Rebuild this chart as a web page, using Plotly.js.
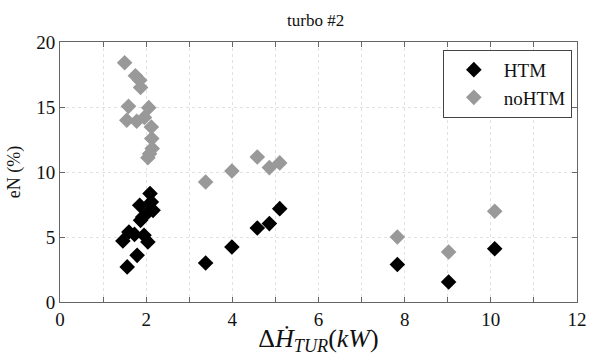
<!DOCTYPE html>
<html><head><meta charset="utf-8">
<script src="https://cdn.plot.ly/plotly-3.0.1.min.js"></script>
<style>html,body{margin:0;padding:0;background:#fff}#chart{width:590px;height:356px}</style>
</head><body><div id="chart"></div>
<script>
var htmX = [1.46, 1.56, 1.60, 1.73, 1.79, 1.87, 1.85, 1.92, 1.95, 2.04, 2.04, 2.09, 2.12, 2.16, 3.38, 3.99, 4.58, 4.86, 5.10, 7.83, 9.02, 10.09];
var htmY = [4.7, 2.7, 5.38, 5.2, 3.59, 6.28, 7.44, 6.54, 5.13, 4.62, 6.9, 8.34, 7.7, 7.05, 3.0, 4.23, 5.69, 6.03, 7.18, 2.88, 1.54, 4.1];
var noX = [1.50, 1.75, 1.85, 1.87, 1.59, 2.06, 1.55, 1.78, 1.96, 2.12, 2.13, 2.14, 2.08, 2.04, 3.38, 3.99, 4.58, 4.86, 5.10, 7.83, 9.02, 10.09];
var noY = [18.4, 17.4, 17.05, 16.5, 15.05, 14.95, 13.98, 13.9, 14.2, 13.46, 12.57, 11.8, 11.4, 11.1, 9.23, 10.08, 11.15, 10.34, 10.7, 5.0, 3.85, 6.98];
var seriesNames = ['HTM', 'noHTM'];
var titleText = 'turbo #2';
var xTitle = 'Δ<i>Ḣ</i><sub><i>TUR</i></sub>(<i>kW</i>)';
var yTitle = 'eN (%)';

var font = 'Liberation Serif';
var traces = [
  {x: htmX, y: htmY, name: seriesNames[0], mode: 'markers', type: 'scatter',
   marker: {symbol: 'diamond', size: 12, color: '#000'}},
  {x: noX, y: noY, name: seriesNames[1], mode: 'markers', type: 'scatter',
   marker: {symbol: 'diamond', size: 12, color: '#999'}}
];
var axisCommon = {
  showline: true, linecolor: '#666', linewidth: 1, mirror: 'ticks',
  ticks: 'inside', ticklen: 5, tickcolor: '#666', zeroline: false,
  showgrid: true, gridcolor: '#e2e2e2', griddash: 'dot',
  tickfont: {family: font, size: 19, color: '#111'}
};
var layout = {
  width: 590, height: 356,
  margin: {l: 60, r: 13, t: 42, b: 54},
  paper_bgcolor: '#fff', plot_bgcolor: '#fff',
  showlegend: true,
  title: {text: titleText, font: {family: font, size: 17, color: '#111'}, x: 0.535, xanchor: 'center', y: 0.945, yanchor: 'middle'},
  xaxis: Object.assign({}, axisCommon, {
    range: [0, 12], dtick: 2, tick0: 0,
    minor: {dtick: 1, ticks: 'inside', ticklen: 5, tickcolor: '#666', showgrid: true, gridcolor: '#e2e2e2', griddash: 'dot'},
    title: {text: xTitle, font: {family: font, size: 26, color: '#111'}, standoff: 2}
  }),
  yaxis: Object.assign({}, axisCommon, {
    range: [0, 20], dtick: 5, tick0: 0,
    title: {text: yTitle, font: {family: font, size: 18, color: '#111'}, standoff: 10}
  }),
  legend: {x: 0.99, y: 0.97, xanchor: 'right', yanchor: 'top',
    bordercolor: '#444', borderwidth: 1, bgcolor: '#fff',
    font: {family: font, size: 19, color: '#111'}, itemwidth: 50, tracegroupgap: 0}
};
Plotly.newPlot('chart', traces, layout, {displayModeBar: false, staticPlot: true});
</script></body></html>
